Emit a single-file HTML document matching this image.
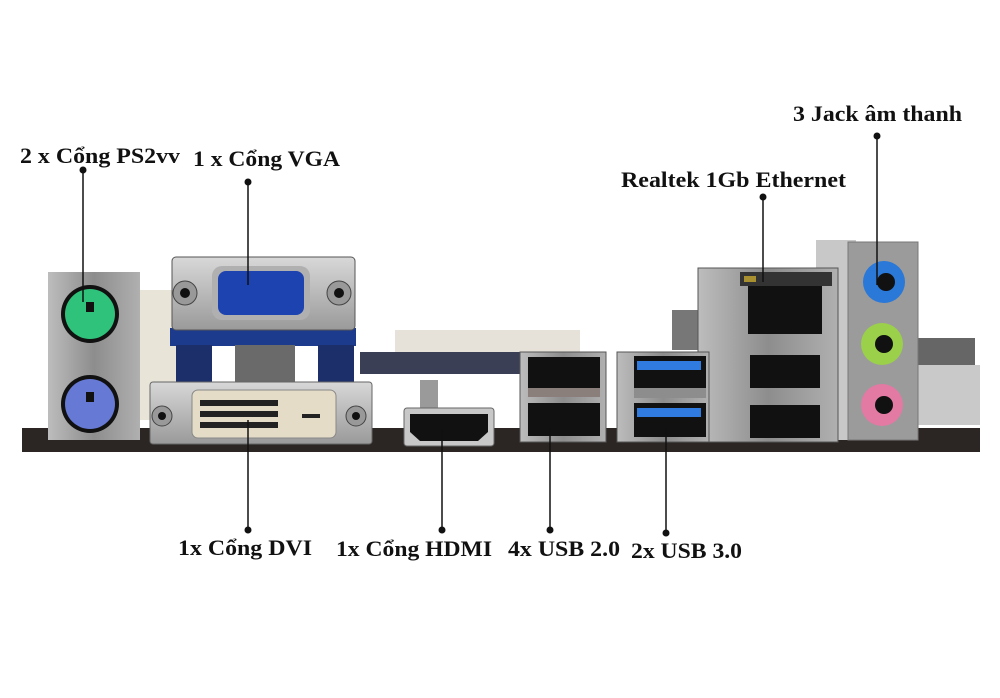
<!DOCTYPE html>
<html><head><meta charset="utf-8"><style>
body{margin:0;background:#fff}
svg{display:block}
text{font-family:"Liberation Serif",serif;font-weight:bold;font-size:22px;fill:#111}
</style></head><body>
<svg width="1000" height="698" viewBox="0 0 1000 698" xmlns="http://www.w3.org/2000/svg">
<defs>
<linearGradient id="met" x1="0" y1="0" x2="0" y2="1"><stop offset="0" stop-color="#d8d8d8"/><stop offset="1" stop-color="#9a9a9a"/></linearGradient>
<linearGradient id="met2" x1="0" y1="0" x2="1" y2="0"><stop offset="0" stop-color="#bdbdbd"/><stop offset="0.5" stop-color="#8d8d8d"/><stop offset="1" stop-color="#b0b0b0"/></linearGradient>
</defs>
<!-- background parts -->
<rect x="395" y="330" width="185" height="30" fill="#e6e2da"/>
<rect x="360" y="352" width="240" height="22" fill="#3a3f55"/>
<rect x="140" y="290" width="40" height="130" fill="#e8e4d8"/>
<rect x="672" y="310" width="30" height="40" fill="#777"/>
<rect x="915" y="338" width="60" height="30" fill="#666"/>
<rect x="915" y="365" width="65" height="60" fill="#c9c9c9"/>
<!-- board -->
<rect x="22" y="428" width="958" height="24" fill="#2b2623"/>
<!-- PS2 bracket -->
<rect x="48" y="272" width="92" height="168" fill="url(#met2)"/>
<circle cx="90" cy="314" r="29" fill="#111"/><circle cx="90" cy="314" r="25" fill="#2fc27a"/>
<rect x="86" y="302" width="8" height="10" fill="#111"/>
<circle cx="90" cy="404" r="29" fill="#111"/><circle cx="90" cy="404" r="25" fill="#6679d4"/>
<rect x="86" y="392" width="8" height="10" fill="#111"/>
<!-- VGA -->
<rect x="170" y="328" width="186" height="18" fill="#1d3b8c"/>
<rect x="176" y="345" width="36" height="40" fill="#1c2f6a"/>
<rect x="318" y="345" width="36" height="40" fill="#1c2f6a"/>
<rect x="235" y="345" width="60" height="40" fill="#6a6a6a"/>
<rect x="172" y="257" width="183" height="73" rx="4" fill="url(#met)" stroke="#555"/>
<rect x="212" y="266" width="98" height="54" rx="10" fill="#b0b0b0"/>
<rect x="218" y="271" width="86" height="44" rx="8" fill="#1d43b0"/>
<circle cx="185" cy="293" r="12" fill="#999" stroke="#444"/><circle cx="185" cy="293" r="5" fill="#111"/>
<circle cx="339" cy="293" r="12" fill="#999" stroke="#444"/><circle cx="339" cy="293" r="5" fill="#111"/>
<!-- DVI -->
<rect x="150" y="382" width="222" height="62" rx="3" fill="url(#met)" stroke="#666"/>
<rect x="192" y="390" width="144" height="48" rx="6" fill="#e4dcc6" stroke="#888"/>
<g fill="#222">
<rect x="200" y="400" width="78" height="6"/><rect x="200" y="411" width="78" height="6"/><rect x="200" y="422" width="78" height="6"/>
<rect x="302" y="414" width="18" height="4"/></g>
<circle cx="162" cy="416" r="10" fill="#999" stroke="#444"/><circle cx="162" cy="416" r="4" fill="#111"/>
<circle cx="356" cy="416" r="10" fill="#999" stroke="#444"/><circle cx="356" cy="416" r="4" fill="#111"/>
<!-- HDMI -->
<rect x="420" y="380" width="18" height="28" fill="#9a9a9a"/>
<rect x="404" y="408" width="90" height="38" rx="3" fill="#c8c8c8" stroke="#666"/>
<path d="M410 414 H488 V432 L478 441 H420 L410 432 Z" fill="#111"/>
<!-- USB2 -->
<rect x="520" y="352" width="86" height="90" fill="url(#met2)" stroke="#555"/>
<rect x="528" y="357" width="72" height="32" fill="#111"/>
<rect x="528" y="388" width="72" height="9" fill="#8a7f7a"/>
<rect x="528" y="403" width="72" height="33" fill="#111"/>
<!-- Audio back -->
<rect x="816" y="240" width="40" height="200" fill="#c8c8c8"/>
<!-- LAN -->
<rect x="698" y="268" width="140" height="174" fill="url(#met2)" stroke="#555"/>
<rect x="740" y="272" width="92" height="14" fill="#333"/>
<rect x="744" y="276" width="12" height="6" fill="#a89030"/>
<rect x="748" y="286" width="74" height="48" fill="#111"/>
<rect x="750" y="355" width="70" height="33" fill="#111"/>
<rect x="750" y="405" width="70" height="33" fill="#111"/>
<!-- USB3 -->
<rect x="617" y="352" width="92" height="90" fill="url(#met2)" stroke="#555"/>
<rect x="634" y="356" width="72" height="34" fill="#111"/><rect x="637" y="361" width="64" height="9" fill="#2f7be0"/>
<rect x="634" y="388" width="72" height="10" fill="#8d8d8d"/>
<rect x="634" y="403" width="72" height="34" fill="#111"/><rect x="637" y="408" width="64" height="9" fill="#2f7be0"/>
<!-- Audio -->
<rect x="848" y="242" width="70" height="198" fill="#9b9b9b" stroke="#777"/>
<circle cx="884" cy="282" r="21" fill="#2a78d8"/><circle cx="886" cy="282" r="9" fill="#111"/>
<circle cx="882" cy="344" r="21" fill="#9ad04a"/><circle cx="884" cy="344" r="9" fill="#111"/>
<circle cx="882" cy="405" r="21" fill="#e27aa3"/><circle cx="884" cy="405" r="9" fill="#111"/>
<!-- leaders -->
<g stroke="#111" stroke-width="1.5" fill="none">
<line x1="83" y1="170" x2="83" y2="302"/>
<line x1="248" y1="182" x2="248" y2="285"/>
<line x1="763" y1="197" x2="763" y2="282"/>
<line x1="877" y1="136" x2="877" y2="285"/>
<line x1="248" y1="420" x2="248" y2="530"/>
<line x1="442" y1="430" x2="442" y2="530"/>
<line x1="550" y1="428" x2="550" y2="530"/>
<line x1="666" y1="428" x2="666" y2="533"/>
</g>
<g fill="#111">
<circle cx="83" cy="170" r="3.5"/><circle cx="248" cy="182" r="3.5"/><circle cx="763" cy="197" r="3.5"/><circle cx="877" cy="136" r="3.5"/>
<circle cx="248" cy="530" r="3.5"/><circle cx="442" cy="530" r="3.5"/><circle cx="550" cy="530" r="3.5"/><circle cx="666" cy="533" r="3.5"/>
</g>
<text x="20" y="163" textLength="160" lengthAdjust="spacingAndGlyphs">2 x Cổng PS2vv</text>
<text x="193" y="166" textLength="147" lengthAdjust="spacingAndGlyphs">1 x Cổng VGA</text>
<text x="621" y="187" textLength="225" lengthAdjust="spacingAndGlyphs">Realtek 1Gb Ethernet</text>
<text x="793" y="121" textLength="169" lengthAdjust="spacingAndGlyphs">3 Jack âm thanh</text>
<text x="178" y="555" textLength="134" lengthAdjust="spacingAndGlyphs">1x Cổng DVI</text>
<text x="336" y="556" textLength="156" lengthAdjust="spacingAndGlyphs">1x Cổng HDMI</text>
<text x="508" y="556" textLength="112" lengthAdjust="spacingAndGlyphs">4x USB 2.0</text>
<text x="631" y="558" textLength="111" lengthAdjust="spacingAndGlyphs">2x USB 3.0</text>
</svg>
</body></html>
